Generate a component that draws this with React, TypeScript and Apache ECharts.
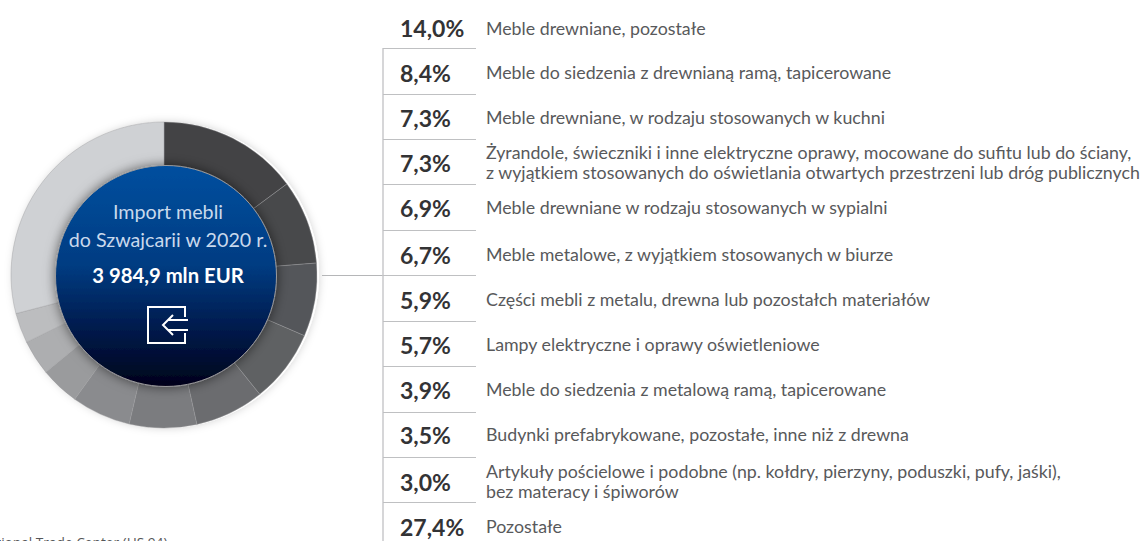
import React, { useEffect, useRef } from "react";
import * as echarts from "echarts";

const shareLabels = ["14,0%", "8,4%", "7,3%", "7,3%", "6,9%", "6,7%", "5,9%", "5,7%", "3,9%", "3,5%", "3,0%", "27,4%"];
const categories = [
  "Meble drewniane, pozostałe",
  "Meble do siedzenia z drewnianą ramą, tapicerowane",
  "Meble drewniane, w rodzaju stosowanych w kuchni",
  "Żyrandole, świeczniki i inne elektryczne oprawy, mocowane do sufitu lub do ściany,\nz wyjątkiem stosowanych do oświetlania otwartych przestrzeni lub dróg publicznych",
  "Meble drewniane w rodzaju stosowanych w sypialni",
  "Meble metalowe, z wyjątkiem stosowanych w biurze",
  "Części mebli z metalu, drewna lub pozostałch materiałów",
  "Lampy elektryczne i oprawy oświetleniowe",
  "Meble do siedzenia z metalową ramą, tapicerowane",
  "Budynki prefabrykowane, pozostałe, inne niż z drewna",
  "Artykuły pościelowe i podobne (np. kołdry, pierzyny, poduszki, pufy, jaśki),\nbez materacy i śpiworów",
  "Pozostałe",
];
// The ring in the picture has eleven slices: the 5,7% item has no slice of its own.
const ringNames = [
  "Meble drewniane, pozostałe",
  "Meble do siedzenia z drewnianą ramą",
  "Meble drewniane, kuchnia",
  "Żyrandole, świeczniki",
  "Meble drewniane, sypialnia",
  "Meble metalowe",
  "Części mebli",
  "Meble do siedzenia z metalową ramą",
  "Budynki prefabrykowane",
  "Artykuły pościelowe",
  "Pozostałe",
];
const ringShares = [14.0, 8.4, 7.3, 7.3, 6.9, 6.7, 5.9, 3.9, 3.5, 3.0, 27.4];
const sliceColors = ["#434345", "#48494b", "#54565a", "#5f6163", "#6b6c6f", "#7b7c7f", "#8a8b8e", "#9a9b9d", "#adaeb0", "#bcbdbf", "#cfd1d4"];
const percentCentres = [28, 73, 118, 163, 208, 255, 300, 345, 390, 435, 482, 527];
const textCentres = [28, 72, 117, 162, 207, 254, 299, 344, 389, 434, 481, 526];
const ruleYs = [48, 94, 139, 184, 230, 275, 321, 366, 412, 457, 502];
const centreTitle = "Import mebli\ndo Szwajcarii w 2020 r.";
const centreValue = "3 984,9 mln EUR";
const sourceText = "Źródło: International Trade Center (HS 94)";

const FONT = "Lato";

export default function App() {
  const ref = useRef<HTMLDivElement>(null);
  useEffect(() => {
    const chart = echarts.init(ref.current!, null, { renderer: "svg" });
    const rows: any[] = [];
    rows.push({ type: "line", z: 3, shape: { x1: 383, y1: 48, x2: 383, y2: 541 }, style: { stroke: "#c8c9cb", lineWidth: 1.5 } });
    ruleYs.forEach((y) =>
      rows.push({ type: "line", z: 3, shape: { x1: 383, y1: y + 0.5, x2: 476, y2: y + 0.5 }, style: { stroke: "#bfc0c2", lineWidth: 1 } })
    );
    shareLabels.forEach((s, i) => {
      rows.push({
        type: "text",
        x: 400,
        y: percentCentres[i],
        style: { text: s, font: `bold 23px ${FONT}`, fill: "#333335", textVerticalAlign: "middle", textAlign: "left" },
      });
      rows.push({
        type: "text",
        x: 486,
        y: textCentres[i],
        style: { text: categories[i], font: `17.8px ${FONT}`, lineHeight: 20, fill: "#58595b", textVerticalAlign: "middle", textAlign: "left" },
      });
    });
    chart.setOption({
      animation: false,
      series: [
        {
          type: "pie",
          center: [164, 275],
          radius: [100, 153],
          startAngle: 90,
          clockwise: true,
          z: 2,
          label: { show: false },
          labelLine: { show: false },
          silent: true,
          itemStyle: { borderColor: "#9a9b9d", borderWidth: 0.4 },
          data: ringShares.map((v, i) => ({ value: v, name: ringNames[i], itemStyle: { color: sliceColors[i] } })),
        },
      ],
      graphic: [
        {
          type: "circle",
          z: 1,
          shape: { cx: 166, cy: 275, r: 153 },
          style: { fill: "#ffffff", shadowBlur: 8, shadowColor: "rgba(0,0,0,0.18)" },
        },
        { type: "line", z: 3, shape: { x1: 322, y1: 275.5, x2: 383, y2: 275.5 }, style: { stroke: "#b5b6b8", lineWidth: 1 } },
        ...rows,
        {
          type: "circle",
          z: 10,
          shape: { cx: 166, cy: 276, r: 110.5 },
          style: {
            stroke: "#9a9a9c",
            lineWidth: 1,
            shadowBlur: 12,
            shadowColor: "rgba(0,0,0,0.55)",
            fill: new echarts.graphic.LinearGradient(0, 0, 0, 1, [
              { offset: 0, color: "#004f9f" },
              { offset: 0.45, color: "#003c82" },
              { offset: 0.75, color: "#03194a" },
              { offset: 1, color: "#05021a" },
            ]),
          },
        },
        {
          type: "text",
          z: 11,
          x: 168,
          y: 225,
          style: { text: centreTitle, font: `19.7px ${FONT}`, lineHeight: 28, fill: "#c9d9ec", textAlign: "center", textVerticalAlign: "middle" },
        },
        {
          type: "text",
          z: 11,
          x: 168,
          y: 275,
          style: { text: centreValue, font: `bold 20.3px ${FONT}`, fill: "#ffffff", textAlign: "center", textVerticalAlign: "middle" },
        },
        {
          type: "polyline",
          z: 11,
          shape: { points: [[185, 317], [185, 307], [148, 307], [148, 343], [185, 343], [185, 333]] },
          style: { stroke: "#fff", lineWidth: 2, fill: "none" },
        },
        {
          type: "polyline",
          z: 11,
          shape: { points: [[188, 320], [168, 320], [173, 315], [163, 325], [173, 335], [168, 330], [188, 330]] },
          style: { stroke: "#fff", lineWidth: 2, fill: "none" },
        },
        {
          type: "text",
          x: -99,
          y: 542,
          style: { text: sourceText, font: "13.7px 'Open Sans'", fill: "#555658", textVerticalAlign: "middle" },
        },
      ],
    });
    return () => chart.dispose();
  }, []);
  return <div ref={ref} style={{ position: "absolute", left: 0, top: 0, width: 1142, height: 541 }} />;
}
